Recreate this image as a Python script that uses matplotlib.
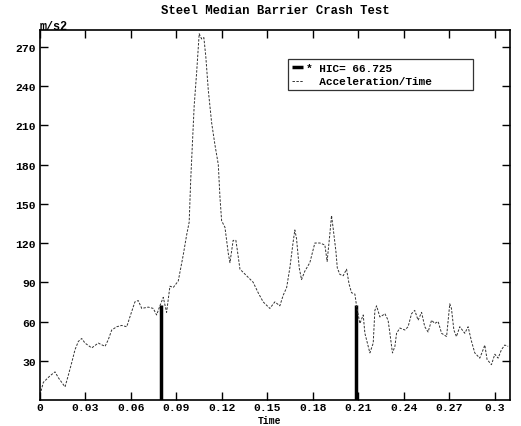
import matplotlib.pyplot as plt
import numpy as np

# acceleration curve
time = [0, 0.0022, 0.0044, 0.0066, 0.0099, 0.0121, 0.0165, 0.0187, 0.0209, 0.0231,
        0.0253, 0.0275, 0.0297, 0.0341, 0.0384, 0.0429, 0.045, 0.0473, 0.0506, 0.0539,
        0.0572, 0.0593, 0.0626, 0.0648, 0.0671, 0.0714, 0.0747, 0.0769, 0.0791, 0.0813,
        0.0835, 0.0857, 0.0879, 0.0912, 0.0945, 0.0967, 0.0984, 0.0994, 0.1007, 0.1017,
        0.1033, 0.105, 0.1066, 0.1081, 0.1094, 0.111, 0.1132, 0.1154, 0.1176, 0.1187,
        0.1198, 0.122, 0.1242, 0.1253, 0.1274, 0.1292, 0.1301, 0.1319, 0.1363, 0.1406,
        0.1439, 0.1472, 0.1516, 0.1549, 0.1582, 0.1604, 0.1627, 0.1648, 0.167, 0.1681,
        0.1692, 0.171, 0.1725, 0.1747, 0.178, 0.1813, 0.1846, 0.1879, 0.1894, 0.1912,
        0.1923, 0.1934, 0.1952, 0.1961, 0.1978, 0.2, 0.2022, 0.2039, 0.2055, 0.2077,
        0.2088, 0.211, 0.2132, 0.2143, 0.2165, 0.2176, 0.2198, 0.2209, 0.222, 0.2242,
        0.2264, 0.2275, 0.2296, 0.2308, 0.2325, 0.2341, 0.2352, 0.2374, 0.2407, 0.2428,
        0.2451, 0.2472, 0.2494, 0.2517, 0.2538, 0.256, 0.2583, 0.2604, 0.2626, 0.2649,
        0.2682, 0.2703, 0.2714, 0.273, 0.2747, 0.2769, 0.2802, 0.2824, 0.2846, 0.2868,
        0.2901, 0.2923, 0.2934, 0.2949, 0.2978, 0.3, 0.3022, 0.3044, 0.3066, 0.3088]
accel = [4, 13.5, 16, 18.5, 21.5, 17, 10, 19, 28.5, 38.5,
         44.8, 47, 43.5, 39.8, 43.5, 41, 46, 53.5, 56, 57,
         56, 63.5, 75, 76, 70, 71, 70, 65, 72, 78.5,
         67, 87, 86, 91, 111, 126, 136, 168, 200, 225,
         250, 280, 276, 277, 262, 237, 212, 195, 180, 155,
         137, 132, 112, 105, 122, 122, 115, 100, 95, 90,
         82, 75, 70, 75, 72, 80, 86, 101, 121, 130,
         123.5, 101, 92, 98.5, 105, 120, 120, 118.5, 106, 127,
         141, 131, 113.5, 101, 96, 95, 100, 88.5, 82, 81,
         72, 58.5, 65, 51, 41, 36, 43.5, 68.5, 72, 63.5,
         65, 66, 61, 51, 36, 41, 51, 55, 53.5, 56,
         66, 68.5, 61, 67, 56, 52, 61, 58.5, 60, 51,
         48.5, 73.5, 70, 53.5, 48.5, 56, 51, 56, 45, 36,
         32, 38.5, 42, 31, 27, 35, 32, 38.5, 42, 41]

# HIC window
hic_t = [0.0798, 0.2083]
hic_a = [73, 73]
hic_value = 66.725

xticks = [0, 0.03, 0.06, 0.09, 0.12, 0.15, 0.18, 0.21, 0.24, 0.27, 0.3]
xlabels = ['0', '0.03', '0.06', '0.09', '0.12', '0.15', '0.18', '0.21', '0.24', '0.27', '0.3']
yticks = [30, 60, 90, 120, 150, 180, 210, 240, 270]

plt.rcParams['font.family'] = ['Liberation Mono', 'DejaVu Sans Mono']
plt.rcParams['font.weight'] = 'bold'

fig = plt.figure(figsize=(5.21, 4.27), dpi=100)
ax = fig.add_axes([0.0768, 0.0609, 0.902, 0.867])

ax.vlines(hic_t, 0, hic_a, color='black', lw=2.5, label='* HIC= %.3f' % hic_value)
ax.plot(time, accel, color='#333333', lw=0.7, linestyle=(0, (2.5, 1.5)),
        label='  Acceleration/Time')

ax.set_xlim(0, 0.31)
ax.set_ylim(0, 283)
ax.set_xticks(xticks)
ax.set_xticklabels(xlabels)
ax.set_yticks(yticks)
ax.tick_params(direction='in', length=6, width=1, top=True, right=True,
               labelsize=8.2, pad=1.5)
ax.tick_params(axis='y', pad=3)
for lab in ax.get_xticklabels() + ax.get_yticklabels():
    lab.set_fontweight('bold')
for s in ax.spines.values():
    s.set_linewidth(1.2)

ax.set_title('Steel Median Barrier Crash Test', fontsize=8.8, fontweight='bold', pad=12)
ax.text(0, 0.993, 'm/s2', transform=ax.transAxes, fontsize=8.5, fontweight='bold',
        va='bottom', ha='left')
# x label sits tight under the tick labels, as in the reference
fig.text(0.518, 1 - 421.5 / 427, 'Time', fontsize=7, fontweight='bold',
         ha='center', va='center')

leg = ax.legend(loc='upper left', bbox_to_anchor=(0.528, 0.834, 0.393, 0.088),
                mode='expand', fontsize=8, frameon=True, fancybox=False,
                edgecolor='black', handlelength=1.0, handletextpad=0.3,
                borderpad=0.35, labelspacing=0.35, borderaxespad=0)
leg.get_frame().set_linewidth(0.9)
for t in leg.get_texts():
    t.set_fontweight('bold')

fig.savefig('out.png', dpi=100)
